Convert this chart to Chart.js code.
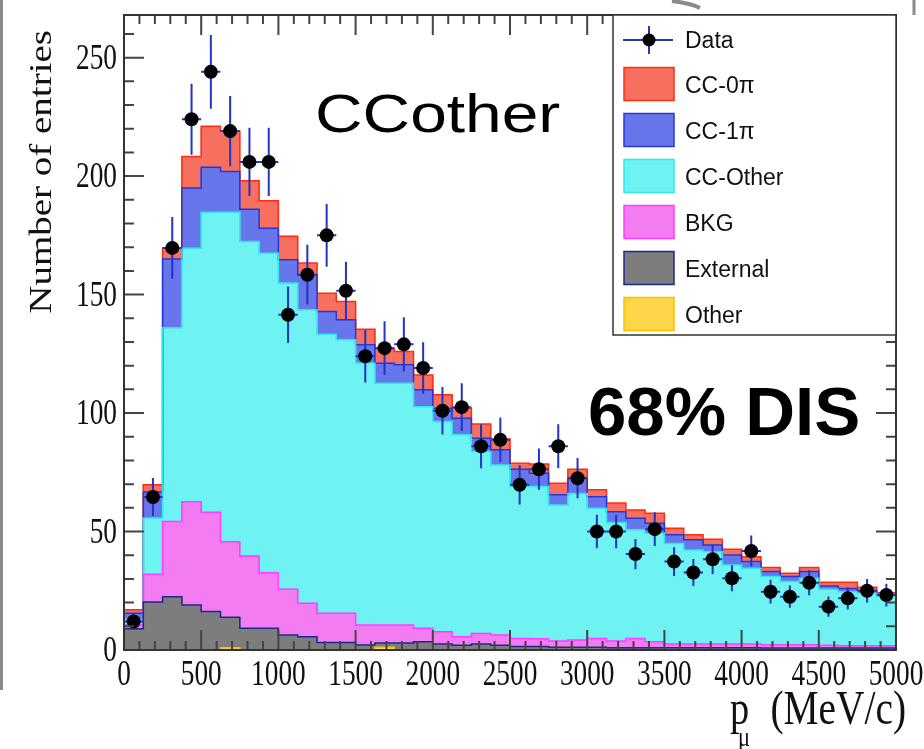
<!DOCTYPE html>
<html>
<head>
<meta charset="utf-8">
<script src="https://cdn.jsdelivr.net/npm/chart.js@4.4.1/dist/chart.umd.min.js"></script>
<style>
  html, body { margin: 0; padding: 0; background: #fff; }
  canvas { display: block; }
</style>
</head>
<body>
<canvas id="histChart" width="924" height="749"></canvas>
<script>
// bin centres of the 125 MeV/c bins, 0 - 5000
const binCenters = [62.5, 187.5, 312.5, 437.5, 562.5, 687.5, 812.5, 937.5, 1062.5, 1187.5,
  1312.5, 1437.5, 1562.5, 1687.5, 1812.5, 1937.5, 2062.5, 2187.5, 2312.5, 2437.5,
  2562.5, 2687.5, 2812.5, 2937.5, 3062.5, 3187.5, 3312.5, 3437.5, 3562.5, 3687.5,
  3812.5, 3937.5, 4062.5, 4187.5, 4312.5, 4437.5, 4562.5, 4687.5, 4812.5, 4937.5];
const binHalf = 62.5;

// stacked MC components, bottom to top
const otherVals = [0, 0, 0, 0, 0, 1, 0, 0, 0, 0, 0, 0, 0, 1.2, 0, 0, 0, 0, 0, 0,
  0, 0, 0, 0, 0, 0, 0, 0, 0, 0, 0, 0, 0, 0, 0, 0, 0, 0, 0, 0];
const externalVals = [9, 20.3, 22.5, 19, 16.2, 12.8, 9.2, 9.2, 6.3, 5.6, 3.2, 3.2, 2.1, 1.8, 3, 3.5, 2.5, 2, 2.5, 2,
  1.5, 1.5, 1.2, 1.2, 1.2, 1, 1, 1, 1, 1, 1, 1, 1, 0.8, 0.8, 0.8, 0.8, 0.8, 0.8, 0.8];
const bkgVals = [1.5, 11.7, 31.7, 43.6, 41.9, 31.9, 30.5, 23.4, 19.3, 14.1, 12.3, 12.3, 8.5, 7.6, 7.6, 5.7, 5.2, 3.6, 4.5, 4.3,
  3.4, 3.3, 2.6, 3, 3.7, 2.8, 3.9, 2.5, 1.5, 1.5, 1.5, 1.5, 1.5, 1.4, 1.4, 1.4, 1.2, 1, 1, 1];
const ccOtherVals = [2.5, 23.7, 81.8, 107, 126.7, 139.1, 132.7, 134.9, 129.3, 123.9, 117.8, 115.4, 110.5, 102, 102, 93.5, 88.7, 85.2, 76.8, 71.8,
  64.1, 64.2, 57.4, 61.8, 54.9, 50, 45.8, 45.8, 42.5, 39.7, 39, 33.4, 32, 28.8, 26.7, 28.1, 23.6, 22.8, 22.1, 20.7];
const cc1piVals = [2.5, 11, 29, 25.4, 18.9, 17.2, 13.6, 10.5, 9.8, 14.8, 9.6, 8.5, 7.7, 8.4, 7.8, 7.1, 5.6, 7, 5.6, 6.4,
  7.3, 5.6, 4.3, 6.5, 4.9, 4.6, 4.9, 4.2, 3.6, 4.3, 2.8, 4.2, 2.8, 2.1, 2.1, 2.8, 1.4, 1.4, 1.1, 0.7];
const cc0piVals = [1.5, 3, 4.7, 13.3, 17.3, 16.9, 12, 11.6, 9.9, 4.9, 7.7, 7.7, 6.6, 6.4, 5.6, 6.3, 5.7, 4.2, 6, 4.5,
  2.5, 3.9, 4.9, 3.8, 2.9, 3.6, 3.5, 4.2, 2.8, 2.1, 2.4, 2.4, 2.1, 1.7, 1.4, 1.7, 1.6, 2.6, 1.5, 1];

// data points and their vertical errors
const dataVals = [12, 64.6, 169.7, 224, 244, 219, 206, 206, 141.5, 158.4, 175, 151.6, 124, 127.4, 129, 119, 101, 102.5, 86, 88.7,
  69.7, 76.3, 86, 72.5, 50, 50, 40.5, 51, 37.3, 32.7, 38.3, 30.3, 41.8, 24.6, 22.5, 28.4, 18.3, 21.8, 25, 23.2];
const dataErrs = [3.5, 8, 13, 15, 15.6, 14.8, 14.4, 14.4, 11.9, 12.6, 13.2, 12.3, 11.1, 11.3, 11.4, 10.9, 10, 10.1, 9.3, 9.4,
  8.3, 8.7, 9.3, 8.5, 7.1, 7.1, 6.4, 7.1, 6.1, 5.7, 6.2, 5.5, 6.5, 5, 4.7, 5.3, 4.3, 4.7, 5, 4.8];

const xTickLabels = [0, 500, 1000, 1500, 2000, 2500, 3000, 3500, 4000, 4500, 5000];
const yTickLabels = [0, 50, 100, 150, 200, 250];

const colors = {
  other: ["#ffd54a", "#ffbf00"],
  external: ["#7d7d7d", "#1c2a8c"],
  bkg: ["#f47cf2", "#ff3cff"],
  ccOther: ["#6ef2f2", "#30e6ef"],
  cc1pi: ["#6876ec", "#2438d8"],
  cc0pi: ["#f7705f", "#ff2d10"],
};
const errColor = "#2035c4";

// bottom to top, as stacked
const components = [
  { label: "Other", vals: otherVals, c: colors.other },
  { label: "External", vals: externalVals, c: colors.external },
  { label: "BKG", vals: bkgVals, c: colors.bkg },
  { label: "CC-Other", vals: ccOtherVals, c: colors.ccOther },
  { label: "CC-1\u03c0", vals: cc1piVals, c: colors.cc1pi },
  { label: "CC-0\u03c0", vals: cc0piVals, c: colors.cc0pi },
];
const legendItems = components.slice().reverse();

function barSet(comp) {
  return {
    type: "bar",
    label: comp.label,
    data: binCenters.map((x, i) => ({ x: x, y: comp.vals[i] })),
    backgroundColor: comp.c[0],
    borderWidth: 0,
    barPercentage: 1.05,
    categoryPercentage: 1,
    order: 1,
  };
}

function squeezed(ctx, text, x, y, font, sx, align) {
  ctx.save();
  ctx.translate(x, y);
  ctx.scale(sx, 1);
  ctx.font = font;
  ctx.textAlign = align;
  ctx.textBaseline = "alphabetic";
  ctx.fillText(text, 0, 0);
  ctx.restore();
}

// stepped outline of each cumulative stack, then data error bars
function drawOutlines(chart) {
  const { ctx } = chart;
  const x = chart.scales.x, y = chart.scales.y;
  const cum = binCenters.map(() => 0);
  const tops = components.map((comp) => {
    comp.vals.forEach((v, i) => { cum[i] += v; });
    return cum.slice();
  });
  ctx.save();
  ctx.lineWidth = 1.5;
  for (let k = components.length - 1; k >= 0; k--) {
    if (tops[k].every((v, i) => k > 0 && v === tops[k - 1][i])) continue;
    ctx.strokeStyle = components[k].c[1];
    ctx.beginPath();
    ctx.moveTo(x.getPixelForValue(0), y.getPixelForValue(0));
    tops[k].forEach((v, i) => {
      const py = y.getPixelForValue(v);
      ctx.lineTo(x.getPixelForValue(binCenters[i] - binHalf), py);
      ctx.lineTo(x.getPixelForValue(binCenters[i] + binHalf), py);
    });
    ctx.stroke();
  }
  ctx.restore();
}

const decorPlugin = {
  id: "decor",
  beforeDatasetDraw(chart, args) {
    if (args.meta.type !== "scatter") return;
    drawOutlines(chart);
    const { ctx } = chart;
    const x = chart.scales.x, y = chart.scales.y;
    ctx.save();
    ctx.strokeStyle = errColor;
    ctx.lineWidth = 2;
    dataVals.forEach((v, i) => {
      const px = x.getPixelForValue(binCenters[i]);
      const py = y.getPixelForValue(v);
      ctx.beginPath();
      ctx.moveTo(x.getPixelForValue(binCenters[i] - binHalf), py);
      ctx.lineTo(x.getPixelForValue(binCenters[i] + binHalf), py);
      ctx.moveTo(px, y.getPixelForValue(v - dataErrs[i]));
      ctx.lineTo(px, y.getPixelForValue(v + dataErrs[i]));
      ctx.stroke();
    });
    ctx.restore();
  },
  afterDatasetsDraw(chart) {
    const { ctx, chartArea: ca } = chart;
    const x = chart.scales.x, y = chart.scales.y;
    ctx.save();
    ctx.strokeStyle = "#444";
    ctx.lineWidth = 2;
    ctx.beginPath();
    for (let v = 0; v <= 268; v += 10) {
      const py = y.getPixelForValue(v);
      const len = v % 50 === 0 ? 20 : 10;
      ctx.moveTo(ca.left, py); ctx.lineTo(ca.left + len, py);
      ctx.moveTo(ca.right, py); ctx.lineTo(ca.right - len, py);
    }
    for (let v = 0; v <= 5000; v += 100) {
      const px = x.getPixelForValue(v);
      const len = v % 500 === 0 ? 20 : 9;
      ctx.moveTo(px, ca.bottom); ctx.lineTo(px, ca.bottom - len);
      ctx.moveTo(px, ca.top); ctx.lineTo(px, ca.top + len);
    }
    ctx.stroke();
    ctx.strokeStyle = "#333";
    ctx.strokeRect(ca.left, ca.top, ca.right - ca.left, ca.bottom - ca.top);
    ctx.restore();
  },
  afterDraw(chart) {
    const { ctx } = chart;
    const x = chart.scales.x, y = chart.scales.y;
    ctx.save();
    ctx.fillStyle = "#111";
    // tick labels
    xTickLabels.forEach((v) => {
      squeezed(ctx, String(v), x.getPixelForValue(v), 685, "35px 'Liberation Serif'", 0.78, "center");
    });
    yTickLabels.forEach((v) => {
      squeezed(ctx, String(v), 117, y.getPixelForValue(v) + 11, "35px 'Liberation Serif'", 0.78, "right");
    });
    // axis titles
    ctx.save();
    ctx.translate(51, 30);
    ctx.scale(0.8, 1);
    ctx.rotate(-Math.PI / 2);
    ctx.font = "39px 'Liberation Serif'";
    ctx.textAlign = "right";
    ctx.textBaseline = "alphabetic";
    ctx.fillText("Number of entries", 0, 0);
    ctx.restore();
    squeezed(ctx, "p", 730, 724, "48px 'Liberation Serif'", 0.8, "left");
    squeezed(ctx, "\u03bc", 738, 746, "28px 'Liberation Serif'", 0.8, "left");
    squeezed(ctx, "(MeV/c)", 906, 724, "48px 'Liberation Serif'", 0.82, "right");

    // legend
    const lx = 613, ly = 15, lw = 283, lh = 320;
    ctx.fillStyle = "#fff";
    ctx.fillRect(lx, ly, lw, lh);
    ctx.strokeStyle = "#333";
    ctx.lineWidth = 1.5;
    ctx.strokeRect(lx, ly, lw, lh);
    ctx.font = "23px 'Liberation Sans'";
    ctx.textAlign = "left";
    ctx.textBaseline = "middle";
    // data entry
    ctx.strokeStyle = errColor;
    ctx.lineWidth = 2;
    ctx.beginPath();
    ctx.moveTo(623, 40); ctx.lineTo(673, 40);
    ctx.moveTo(649, 26); ctx.lineTo(649, 54);
    ctx.stroke();
    ctx.fillStyle = "#000";
    ctx.beginPath();
    ctx.arc(649, 40, 6.5, 0, Math.PI * 2);
    ctx.fill();
    ctx.fillStyle = "#111";
    ctx.fillText("Data", 685, 42);
    legendItems.forEach((it, i) => {
      const cy = 84 + i * 46;
      ctx.fillStyle = it.c[0];
      ctx.fillRect(624, cy - 16.5, 50, 33);
      ctx.strokeStyle = it.c[1];
      ctx.lineWidth = 1.5;
      ctx.strokeRect(624, cy - 16.5, 50, 33);
      ctx.fillStyle = "#111";
      ctx.fillText(it.label, 685, cy + 3);
    });

    // annotations
    ctx.fillStyle = "#000";
    squeezed(ctx, "CCother", 315, 132, "54px 'Liberation Sans'", 1.22, "left");
    squeezed(ctx, "68% DIS", 588, 435, "bold 69px 'Liberation Sans'", 1, "left");

    // scan edges
    ctx.strokeStyle = "#8a8a8a";
    ctx.lineWidth = 3;
    ctx.beginPath();
    ctx.moveTo(1.5, 0); ctx.lineTo(1.5, 690);
    ctx.moveTo(914, 0); ctx.lineTo(914, 15);
    ctx.stroke();
    ctx.lineWidth = 4;
    ctx.beginPath();
    ctx.moveTo(672, 1); ctx.quadraticCurveTo(690, 3, 700, 8);
    ctx.stroke();
    ctx.restore();
  },
};

new Chart(document.getElementById("histChart"), {
  type: "bar",
  data: {
    datasets: [
      {
        type: "scatter",
        label: "Data",
        data: binCenters.map((x, i) => ({ x: x, y: dataVals[i] })),
        pointRadius: 7,
        pointBackgroundColor: "#000",
        pointBorderColor: "#000",
        pointBorderWidth: 0,
        order: 0,
      },
    ].concat(components.map(barSet)),
  },
  options: {
    responsive: false,
    animation: false,
    devicePixelRatio: 1,
    layout: { padding: { top: 15, right: 28, left: 0, bottom: 0 } },
    plugins: { legend: { display: false }, tooltip: { enabled: false } },
    scales: {
      x: {
        type: "linear", stacked: true, min: 0, max: 5000, offset: false,
        grid: { display: false }, border: { display: false },
        ticks: { display: false },
        afterFit(s) { s.height = 99; },
      },
      y: {
        type: "linear", stacked: true, min: 0, max: 268,
        grid: { display: false }, border: { display: false },
        ticks: { display: false },
        afterFit(s) { s.width = 124; },
      },
    },
  },
  plugins: [decorPlugin],
});
</script>
</body>
</html>
